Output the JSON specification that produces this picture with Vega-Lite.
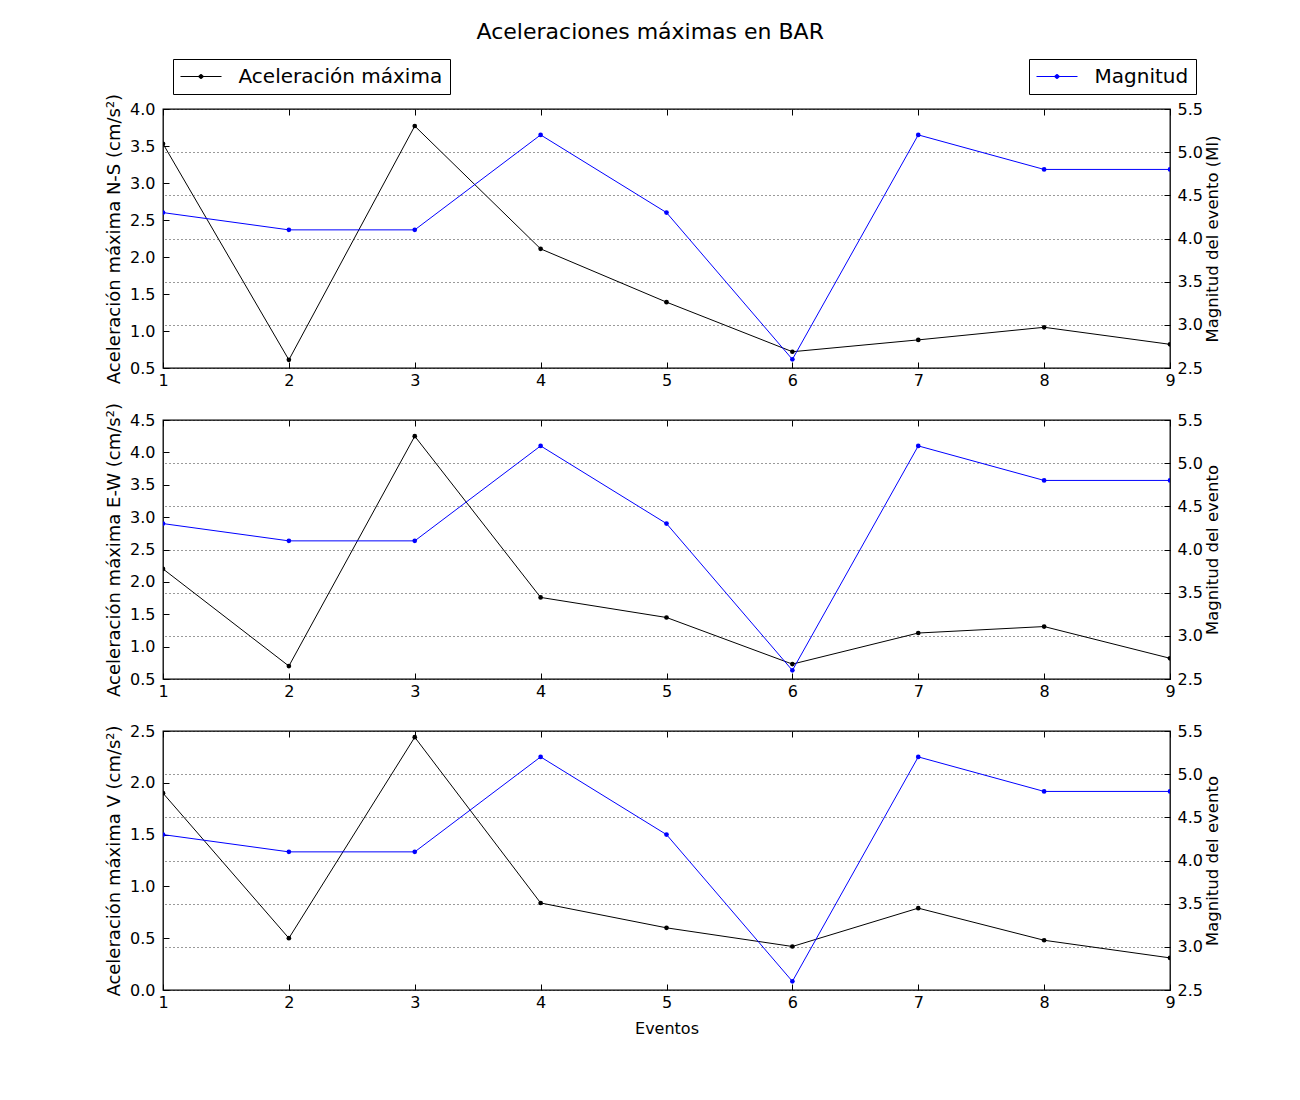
{
  "$schema": "https://vega.github.io/schema/vega-lite/v6.json",
  "padding": {"left": 104, "top": 20, "right": 20, "bottom": 20},
  "background": "white",
  "title": {"text": "Aceleraciones máximas en BAR", "fontSize": 22, "font": "DejaVu Sans", "fontWeight": "normal", "color": "black", "anchor": "middle", "offset": 14, "dx": -13},
  "config": {
    "font": "DejaVu Sans",
    "view": {"stroke": "black", "strokeWidth": 1.3},
    "axis": {"labelFont": "DejaVu Sans", "labelFontSize": 16, "labelColor": "black", "titleFont": "DejaVu Sans", "titleFontSize": 16.5, "titleFontWeight": "normal", "titleColor": "black", "domain": false, "tickColor": "black", "tickSize": -6, "tickWidth": 1, "grid": false, "labelFlush": false}
  },
  "datasets": {
    "ev": [
      {"evento": 1, "ns": 3.53, "ew": 2.20, "v": 1.90, "mag": 4.3},
      {"evento": 2, "ns": 0.61, "ew": 0.70, "v": 0.50, "mag": 4.1},
      {"evento": 3, "ns": 3.77, "ew": 4.25, "v": 2.44, "mag": 4.1},
      {"evento": 4, "ns": 2.11, "ew": 1.76, "v": 0.84, "mag": 5.2},
      {"evento": 5, "ns": 1.39, "ew": 1.45, "v": 0.60, "mag": 4.3},
      {"evento": 6, "ns": 0.72, "ew": 0.73, "v": 0.42, "mag": 2.6},
      {"evento": 7, "ns": 0.88, "ew": 1.21, "v": 0.79, "mag": 5.2},
      {"evento": 8, "ns": 1.05, "ew": 1.31, "v": 0.48, "mag": 4.8},
      {"evento": 9, "ns": 0.82, "ew": 0.82, "v": 0.31, "mag": 4.8}
    ]
  },
  "data": {"name": "ev"},
  "spacing": 52,
  "bounds": "flush",
  "vconcat": [
    {
      "width": 1007, "height": 259,
      "layer": [
        {
          "mark": {"type": "line", "color": "black", "strokeWidth": 1, "clip": true, "point": {"filled": true, "size": 22, "color": "black"}},
          "encoding": {
            "x": {"field": "evento", "type": "quantitative", "scale": {"domain": [1, 9], "nice": false}, "axis": {"orient": "bottom", "values": [1,2,3,4,5,6,7,8,9], "format": "d", "title": null, "labelPadding": 10}},
            "y": {"field": "ns", "type": "quantitative", "scale": {"domain": [0.5, 4.0], "nice": false, "zero": false}, "axis": {"orient": "left", "values": [0.5,1.0,1.5,2.0,2.5,3.0,3.5,4.0], "format": ".1f", "title": "Aceleración máxima N-S (cm/s²)", "titleFontSize": 18, "labelPadding": 14, "titlePadding": 6}},
            "color": {"datum": "Aceleración máxima", "type": "nominal", "scale": {"range": ["black"]}, "legend": {"orient": "none", "legendX": 10, "legendY": -50, "title": null, "labelFontSize": 20, "labelFont": "DejaVu Sans", "labelColor": "black", "labelLimit": 400, "strokeColor": "black", "fillColor": "white", "padding": 7, "cornerRadius": 0, "symbolType": "M-2.05,0L2.05,0M0,-0.2A0.2,0.2,0,1,1,0,0.2A0.2,0.2,0,1,1,0,-0.2Z", "symbolSize": 400, "symbolStrokeWidth": 1, "symbolFillColor": "black", "symbolStrokeColor": "black", "symbolOffset": 10.5, "labelOffset": 27}}
          }
        },
        {
          "mark": {"type": "line", "color": "blue", "strokeWidth": 1, "clip": true, "point": {"filled": true, "size": 22, "color": "blue"}},
          "encoding": {
            "x": {"field": "evento", "type": "quantitative", "scale": {"domain": [1, 9], "nice": false}, "axis": {"orient": "top", "values": [1,2,3,4,5,6,7,8,9], "labels": false, "title": null}},
            "y": {"field": "mag", "type": "quantitative", "scale": {"domain": [2.5, 5.5], "nice": false, "zero": false}, "axis": {"orient": "right", "values": [2.5,3.0,3.5,4.0,4.5,5.0,5.5], "format": ".1f", "title": "Magnitud del evento (Ml)", "titleAngle": 270, "titleBaseline": "top", "labelPadding": 13, "titlePadding": 2, "grid": true, "gridColor": "black", "gridDash": [1, 3], "gridWidth": 0.8}},
            "color": {"datum": "Magnitud", "type": "nominal", "scale": {"range": ["blue"]}, "legend": {"orient": "none", "legendX": 866, "legendY": -50, "title": null, "labelFontSize": 20, "labelFont": "DejaVu Sans", "labelColor": "black", "labelLimit": 400, "strokeColor": "black", "fillColor": "white", "padding": 7, "cornerRadius": 0, "symbolType": "M-2.05,0L2.05,0M0,-0.2A0.2,0.2,0,1,1,0,0.2A0.2,0.2,0,1,1,0,-0.2Z", "symbolSize": 400, "symbolStrokeWidth": 1, "symbolFillColor": "blue", "symbolStrokeColor": "blue", "symbolOffset": 10.5, "labelOffset": 27}}
          }
        }
      ],
      "resolve": {"scale": {"y": "independent", "color": "independent"}, "axis": {"x": "independent"}, "legend": {"color": "independent"}}
    },
    {
      "width": 1007, "height": 259,
      "layer": [
        {
          "mark": {"type": "line", "color": "black", "strokeWidth": 1, "clip": true, "point": {"filled": true, "size": 22, "color": "black"}},
          "encoding": {
            "x": {"field": "evento", "type": "quantitative", "scale": {"domain": [1, 9], "nice": false}, "axis": {"orient": "bottom", "values": [1,2,3,4,5,6,7,8,9], "format": "d", "title": null, "labelPadding": 10}},
            "y": {"field": "ew", "type": "quantitative", "scale": {"domain": [0.5, 4.5], "nice": false, "zero": false}, "axis": {"orient": "left", "values": [0.5,1.0,1.5,2.0,2.5,3.0,3.5,4.0,4.5], "format": ".1f", "title": "Aceleración máxima E-W (cm/s²)", "titleFontSize": 18, "labelPadding": 14, "titlePadding": 6}}
          }
        },
        {
          "mark": {"type": "line", "color": "blue", "strokeWidth": 1, "clip": true, "point": {"filled": true, "size": 22, "color": "blue"}},
          "encoding": {
            "x": {"field": "evento", "type": "quantitative", "scale": {"domain": [1, 9], "nice": false}, "axis": {"orient": "top", "values": [1,2,3,4,5,6,7,8,9], "labels": false, "title": null}},
            "y": {"field": "mag", "type": "quantitative", "scale": {"domain": [2.5, 5.5], "nice": false, "zero": false}, "axis": {"orient": "right", "values": [2.5,3.0,3.5,4.0,4.5,5.0,5.5], "format": ".1f", "title": "Magnitud del evento", "titleAngle": 270, "titleBaseline": "top", "labelPadding": 13, "titlePadding": 2, "grid": true, "gridColor": "black", "gridDash": [1, 3], "gridWidth": 0.8}}
          }
        }
      ],
      "resolve": {"scale": {"y": "independent"}, "axis": {"x": "independent"}}
    },
    {
      "width": 1007, "height": 259,
      "layer": [
        {
          "mark": {"type": "line", "color": "black", "strokeWidth": 1, "clip": true, "point": {"filled": true, "size": 22, "color": "black"}},
          "encoding": {
            "x": {"field": "evento", "type": "quantitative", "scale": {"domain": [1, 9], "nice": false}, "axis": {"orient": "bottom", "values": [1,2,3,4,5,6,7,8,9], "format": "d", "title": "Eventos", "titleFontSize": 16, "labelPadding": 10, "titlePadding": 10}},
            "y": {"field": "v", "type": "quantitative", "scale": {"domain": [0.0, 2.5], "nice": false, "zero": false}, "axis": {"orient": "left", "values": [0.0,0.5,1.0,1.5,2.0,2.5], "format": ".1f", "title": "Aceleración máxima V (cm/s²)", "titleFontSize": 18, "labelPadding": 14, "titlePadding": 6}}
          }
        },
        {
          "mark": {"type": "line", "color": "blue", "strokeWidth": 1, "clip": true, "point": {"filled": true, "size": 22, "color": "blue"}},
          "encoding": {
            "x": {"field": "evento", "type": "quantitative", "scale": {"domain": [1, 9], "nice": false}, "axis": {"orient": "top", "values": [1,2,3,4,5,6,7,8,9], "labels": false, "title": null}},
            "y": {"field": "mag", "type": "quantitative", "scale": {"domain": [2.5, 5.5], "nice": false, "zero": false}, "axis": {"orient": "right", "values": [2.5,3.0,3.5,4.0,4.5,5.0,5.5], "format": ".1f", "title": "Magnitud del evento", "titleAngle": 270, "titleBaseline": "top", "labelPadding": 13, "titlePadding": 2, "grid": true, "gridColor": "black", "gridDash": [1, 3], "gridWidth": 0.8}}
          }
        }
      ],
      "resolve": {"scale": {"y": "independent"}, "axis": {"x": "independent"}}
    }
  ]
}
